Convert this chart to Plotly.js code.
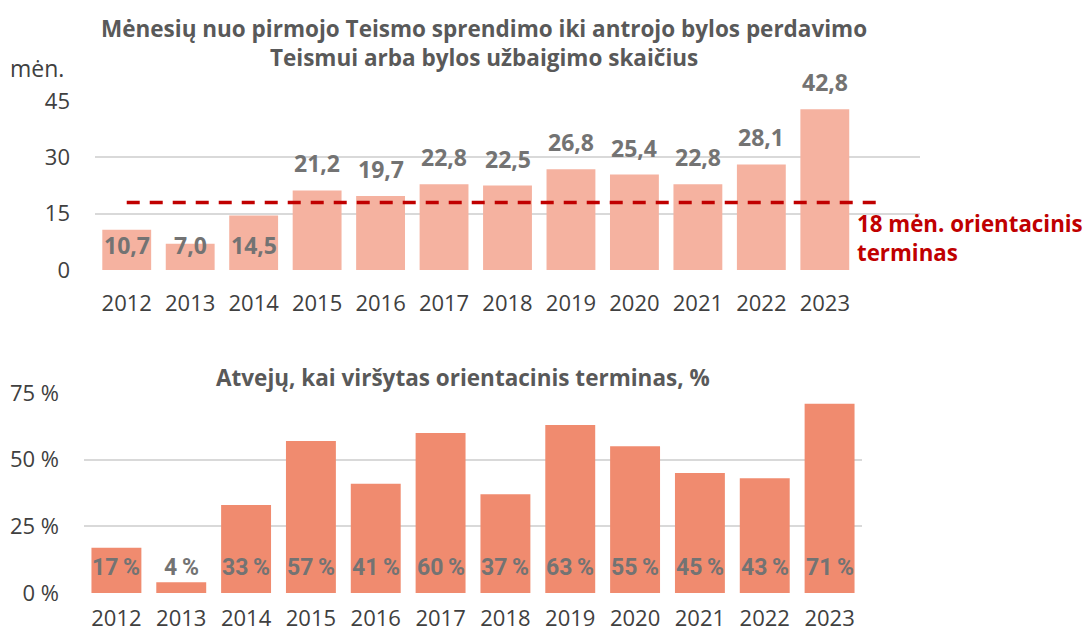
<!DOCTYPE html>
<html><head><meta charset="utf-8">
<script src="https://cdn.plot.ly/plotly-3.0.1.min.js"></script>
<style>html,body{margin:0;padding:0;background:#fff}#c{width:1091px;height:633px}</style>
</head><body><div id="c"></div>
<script>
const years = ['2012','2013','2014','2015','2016','2017','2018','2019','2020','2021','2022','2023'];
const months = [10.7, 7.0, 14.5, 21.2, 19.7, 22.8, 22.5, 26.8, 25.4, 22.8, 28.1, 42.8];
const monthLabels = ['10,7','7,0','14,5','21,2','19,7','22,8','22,5','26,8','25,4','22,8','28,1','42,8'];
const exceededPct = [17, 4, 33, 57, 41, 60, 37, 63, 55, 45, 43, 71];
const threshold = 18;
const topTicks = [0, 15, 30, 45];
const bottomTicks = [0, 25, 50, 75];
const bottomTickText = ['0 %', '25 %', '50 %', '75 %'];

const gray = '#404040';
const labelGray = '#737373';
const font = "'Open Sans', 'Noto Sans', sans-serif";

const traces = [
  {type:'bar', x: years, y: months, xaxis:'x', yaxis:'y', width:0.77,
   marker:{color:'#F5B2A0'}, hoverinfo:'none'},
  {type:'bar', x: years, y: exceededPct, xaxis:'x2', yaxis:'y2', width:0.77,
   marker:{color:'#F08B6F'}, hoverinfo:'none'}
];

const annotations = [];
months.forEach((v, i) => {
  const low = v < 15;
  annotations.push({xref:'x', yref:'y', x: i, y: low ? 0 : v,
    text: '<b>' + monthLabels[i] + '</b>', showarrow:false, yanchor:'middle',
    yshift: low ? 25 : 27, font:{family:font, size:23, color:labelGray}});
});
exceededPct.forEach((v, i) => {
  annotations.push({xref:'x2', yref:'y2', x: i, y: 0,
    text: '<b>' + v + '\u2009%</b>', showarrow:false, yanchor:'middle', yshift:26,
    font:{family:"Roboto, sans-serif", size:23, color:labelGray}});
});
annotations.push(
  {xref:'paper', yref:'paper', x:0.444, y:1-28/633, text:'<b>Mėnesių nuo pirmojo Teismo sprendimo iki antrojo bylos perdavimo</b>',
   showarrow:false, xanchor:'center', yanchor:'middle', font:{family:font, size:22.5, color:'#595959'}},
  {xref:'paper', yref:'paper', x:0.444, y:1-58/633, text:'<b>Teismui arba bylos užbaigimo skaičius</b>',
   showarrow:false, xanchor:'center', yanchor:'middle', font:{family:font, size:22.5, color:'#595959'}},
  {xref:'paper', yref:'paper', x:8/1091, y:1-68/633, text:'mėn.', showarrow:false, xanchor:'left', yanchor:'middle',
   font:{family:font, size:23, color:gray}},
  {xref:'paper', yref:'paper', x:0.424, y:1-378/633, text:'<b>Atvejų, kai viršytas orientacinis terminas, %</b>',
   showarrow:false, xanchor:'center', yanchor:'middle', font:{family:font, size:22.5, color:'#595959'}},
  {xref:'paper', yref:'paper', x:855/1091, y:1-223/633, text:'<b>' + threshold + ' mėn. orientacinis</b>',
   showarrow:false, xanchor:'left', yanchor:'middle', font:{family:font, size:22.3, color:'#C00000'}},
  {xref:'paper', yref:'paper', x:855/1091, y:1-252/633, text:'<b>terminas</b>',
   showarrow:false, xanchor:'left', yanchor:'middle', font:{family:font, size:22.3, color:'#C00000'}}
);

const layout = {
  width:1091, height:633, margin:{l:0,r:0,t:0,b:0},
  paper_bgcolor:'#fff', plot_bgcolor:'rgba(0,0,0,0)', showlegend:false,
  font:{family:font, color:gray, size:22},
  xaxis:{domain:[95/1091, 920/1091], anchor:'y', type:'category', range:[-0.5, 12.5],
    showgrid:false, zeroline:false, showline:false, ticks:'', ticklabelstandoff:18,
    tickfont:{size:22, color:gray}, fixedrange:true},
  yaxis:{domain:[1-270/633, 1-101/633], anchor:'x', range:[0,45], tickvals:topTicks,
    showgrid:true, gridcolor:'#D9D9D9', gridwidth:2, zeroline:false, showline:false, ticks:'',
    ticklabelstandoff:24, tickfont:{size:22, color:gray}, fixedrange:true},
  xaxis2:{domain:[84/1091, 862/1091], anchor:'y2', type:'category', range:[-0.5, 11.5],
    showgrid:false, zeroline:false, showline:false, ticks:'', ticklabelstandoff:10,
    tickfont:{size:22, color:gray}, fixedrange:true},
  yaxis2:{domain:[1-593/633, 1-393/633], anchor:'x2', range:[0,75], tickvals:bottomTicks, ticktext:bottomTickText,
    showgrid:true, gridcolor:'#D9D9D9', gridwidth:2, zeroline:false, showline:false, ticks:'',
    ticklabelstandoff:24, tickfont:{size:22, color:gray}, fixedrange:true},
  shapes:[{type:'line', xref:'x', yref:'y', x0:0, x1:11.9, y0:threshold, y1:threshold,
    line:{color:'#C00000', width:3.5, dash:'13px,10px'}, layer:'above'}],
  annotations: annotations,
  bargap:0.23
};

Plotly.newPlot('c', traces, layout, {displayModeBar:false, staticPlot:true});
</script></body></html>
